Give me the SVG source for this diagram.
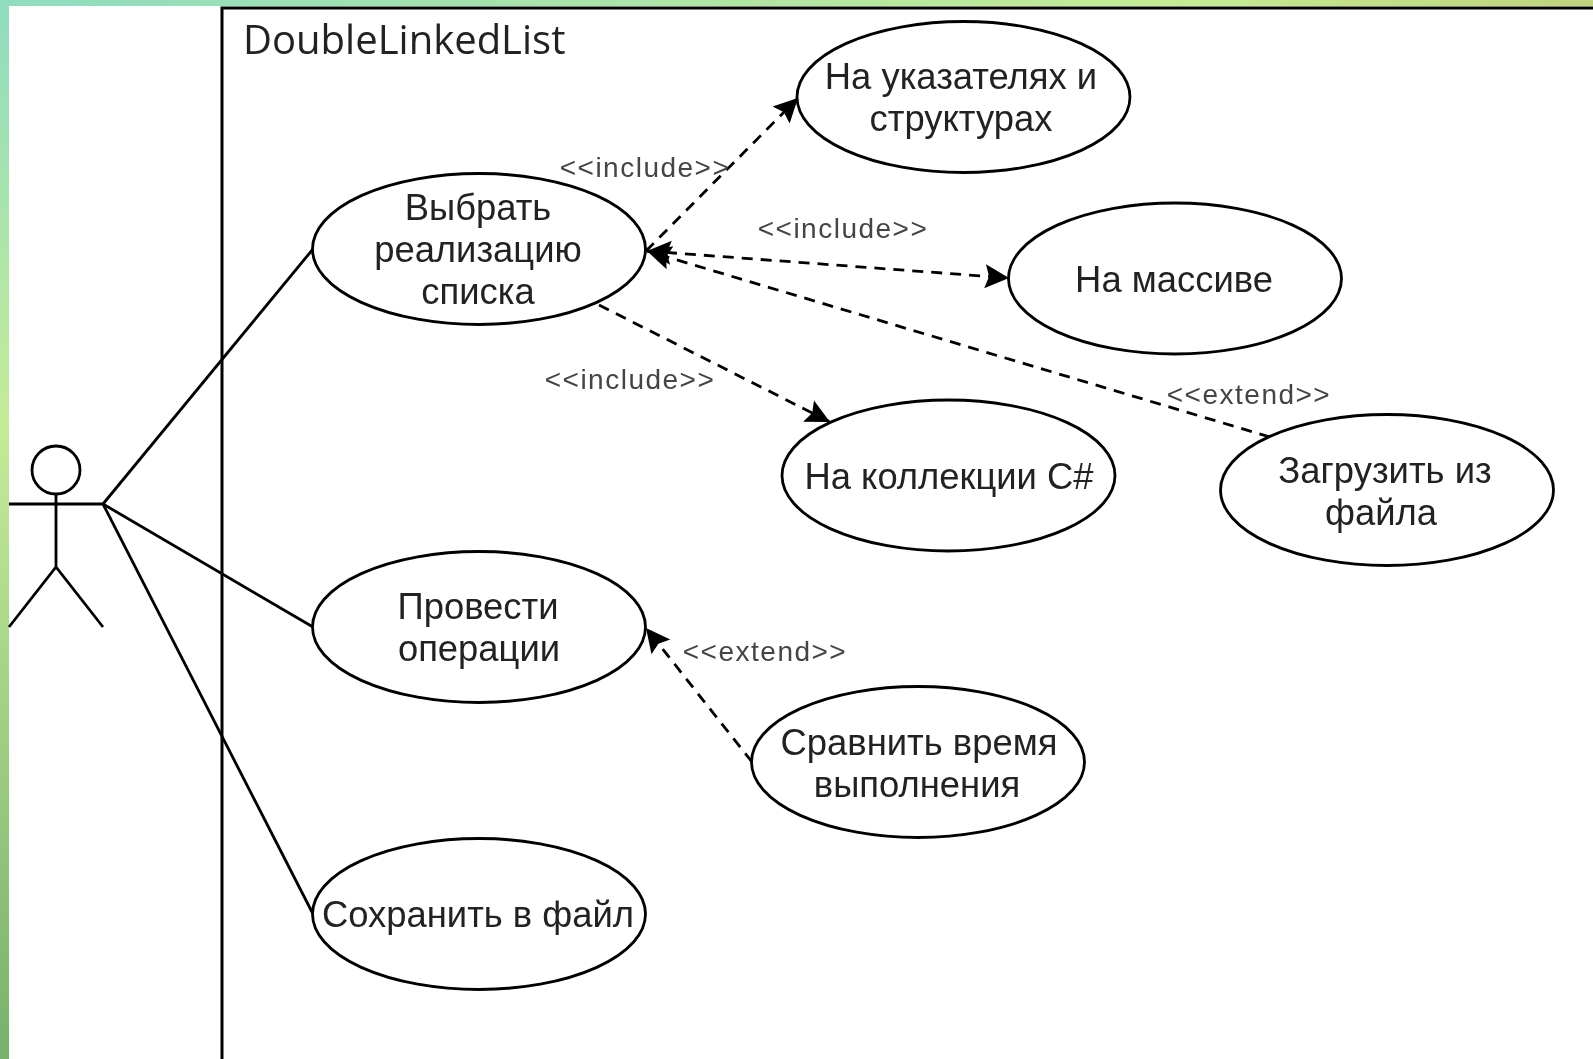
<svg xmlns="http://www.w3.org/2000/svg" width="1593" height="1059" viewBox="0 0 1593 1059">
<style>
.n{fill:#fff;stroke:#000;stroke-width:2.800}
.t{font-family:"Liberation Sans",Arial,sans-serif;font-size:36.400px;fill:#222;text-anchor:middle}
.l{font-family:"Liberation Sans",Arial,sans-serif;font-size:28px;letter-spacing:1.500px;fill:#444;text-anchor:middle}
.a{fill:none;stroke:#000;stroke-width:2.800}
.f{fill:none;stroke:#000;stroke-width:3}
.d{fill:none;stroke:#000;stroke-width:2.800;stroke-dasharray:11 8}
</style>
<defs>
<linearGradient id="top" x1="0" x2="1" y1="0" y2="0"><stop offset="0" stop-color="#8fdcc0"/><stop offset=".75" stop-color="#c4ec92"/><stop offset="1" stop-color="#bfd27c"/></linearGradient>
<linearGradient id="left" x1="0" x2="0" y1="0" y2="1"><stop offset="0" stop-color="#8fdcc0"/><stop offset=".4" stop-color="#c4ec98"/><stop offset="1" stop-color="#78b06c"/></linearGradient>
<marker id="arrow" markerUnits="userSpaceOnUse" markerWidth="30" markerHeight="30" refX="24" refY="13" orient="auto-start-reverse"><path d="M0 1L24 13L0 25L4 13Z" fill="#000"/></marker>
<filter id="soft" x="0" y="0" width="1593" height="1059" filterUnits="userSpaceOnUse"><feGaussianBlur stdDeviation="0.65"/></filter>
</defs>
<rect width="1593" height="1059" fill="#fff"/>
<rect width="1593" height="6" fill="url(#top)"/>
<rect width="9" height="1059" fill="url(#left)"/>
<g filter="url(#soft)">
<path class="f" d="M222 1059V8H1593"/>
<text x="243" y="54" font-family="'Open Sans','Noto Sans',sans-serif" font-size="40" fill="#222">DoubleLinkedList</text>
<g id="connectors">
<path class="a" d="M103 504L313 249"/>
<path class="a" d="M103 504L313 627"/>
<path class="a" d="M103 504L313 914"/>
<path class="d" d="M646 251L798 98" marker-end="url(#arrow)"/>
<path class="d" d="M647 251L1009 278" marker-start="url(#arrow)" marker-end="url(#arrow)"/>
<path class="d" d="M1270 437L647 251" marker-end="url(#arrow)"/>
<path class="d" d="M599 305L830 422" marker-end="url(#arrow)"/>
<path class="d" d="M752 762L646 628" marker-end="url(#arrow)"/>
<text class="l" x="645" y="177">&lt;&lt;include&gt;&gt;</text>
<text class="l" x="843" y="238">&lt;&lt;include&gt;&gt;</text>
<text class="l" x="630" y="389">&lt;&lt;include&gt;&gt;</text>
<text class="l" x="1249" y="404">&lt;&lt;extend&gt;&gt;</text>
<text class="l" x="765" y="661">&lt;&lt;extend&gt;&gt;</text>
</g>
<g id="actor"><circle class="a" cx="56" cy="470" r="24"/><path class="a" d="M56 494V567M9 504H103M9 627L56 567L103 627"/></g>
<g id="select"><ellipse class="n" cx="479" cy="249" rx="166.500" ry="75.500"/><text class="t" x="478" y="220">Выбрать</text><text class="t" x="478" y="262">реализацию</text><text class="t" x="478" y="304">списка</text></g>
<g id="pointers"><ellipse class="n" cx="963.500" cy="97" rx="166.500" ry="75.500"/><text class="t" x="961" y="89">На указателях и</text><text class="t" x="961" y="131">структурах</text></g>
<g id="array"><ellipse class="n" cx="1175" cy="278.500" rx="166.500" ry="75.500"/><text class="t" x="1174" y="292">На массиве</text></g>
<g id="collection"><ellipse class="n" cx="948.500" cy="475.500" rx="166.500" ry="75.500"/><text class="t" x="949" y="489">На коллекции C#</text></g>
<g id="load"><ellipse class="n" cx="1387" cy="490" rx="166.500" ry="75.500"/><text class="t" x="1385" y="483">Загрузить из</text><text class="t" x="1381" y="525">файла</text></g>
<g id="ops"><ellipse class="n" cx="479" cy="627" rx="166.500" ry="75.500"/><text class="t" x="478" y="619">Провести</text><text class="t" x="479" y="661">операции</text></g>
<g id="compare"><ellipse class="n" cx="918" cy="762" rx="166.500" ry="75.500"/><text class="t" x="919" y="755">Сравнить время</text><text class="t" x="917" y="797">выполнения</text></g>
<g id="save"><ellipse class="n" cx="479" cy="914" rx="166.500" ry="75.500"/><text class="t" x="478" y="927">Сохранить в файл</text></g>
</g>
</svg>
